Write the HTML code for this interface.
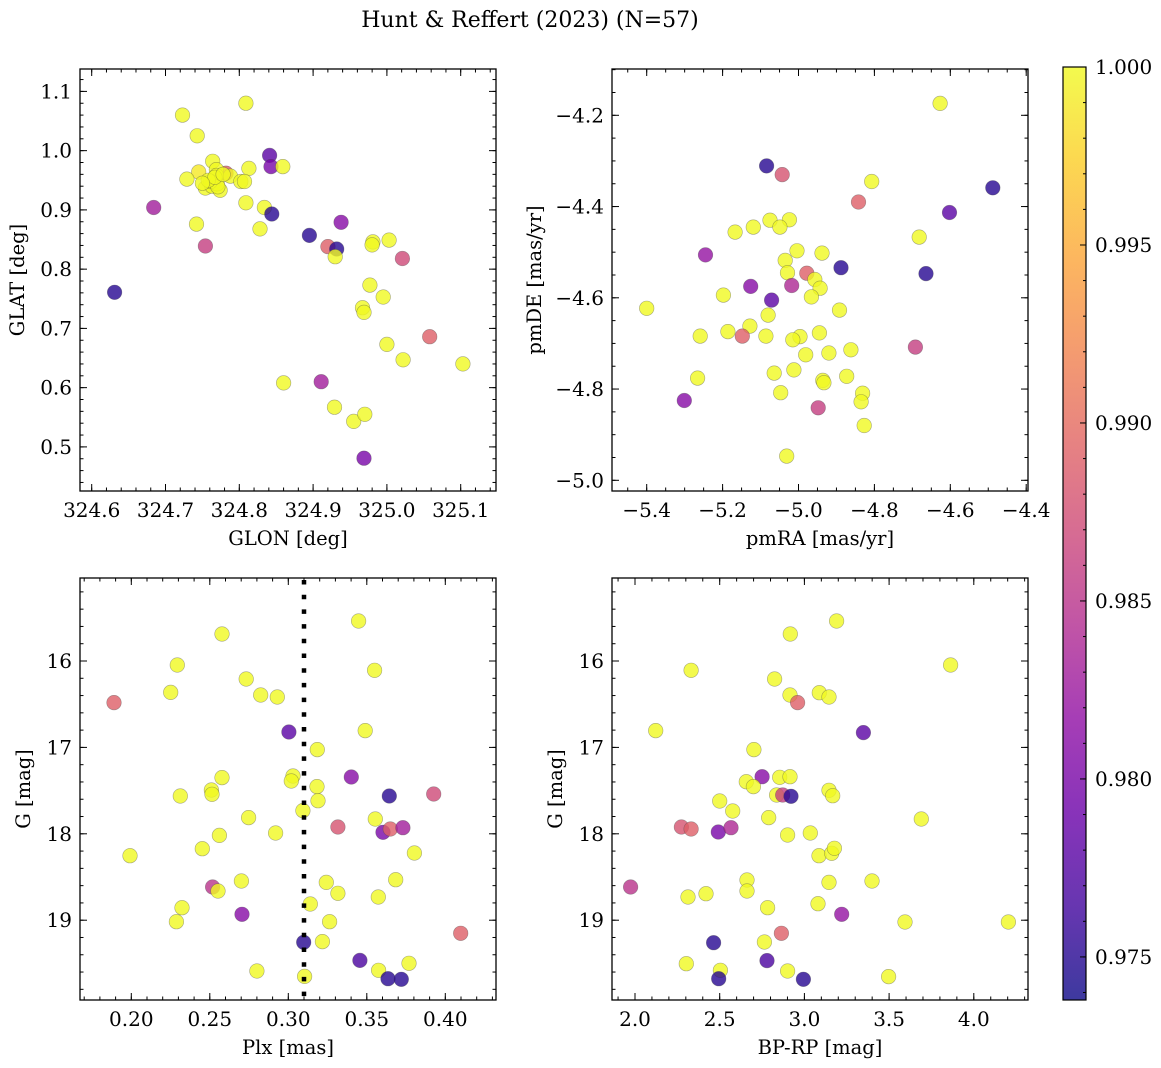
<!DOCTYPE html>
<html><head><meta charset="utf-8"><style>
body{margin:0;background:#fff}
svg{display:block;font-family:"DejaVu Serif","Liberation Serif",serif}
</style></head><body>
<svg id="fig" width="1161" height="1068" viewBox="0 0 1161 1068" xmlns="http://www.w3.org/2000/svg">
<defs>
<linearGradient id="plasmaGrad" x1="0" y1="1" x2="0" y2="0">
<stop offset="0" stop-color="#0d0887"/><stop offset="0.1" stop-color="#41049d"/><stop offset="0.2" stop-color="#6a00a8"/><stop offset="0.3" stop-color="#8f0da4"/><stop offset="0.4" stop-color="#b12a90"/><stop offset="0.5" stop-color="#cc4778"/><stop offset="0.6" stop-color="#e16462"/><stop offset="0.7" stop-color="#f2844b"/><stop offset="0.8" stop-color="#fca636"/><stop offset="0.9" stop-color="#fcce25"/><stop offset="1" stop-color="#f0f921"/>
</linearGradient>
</defs>
<text x="530" y="27" text-anchor="middle" font-size="22">Hunt &amp; Reffert (2023) (N=57)</text>
</svg>
<script>
// ---- Panel 1: GLON vs GLAT ----
const glon1=[324.809,324.723,324.743,324.841,324.843,324.859,324.764,324.745,324.782,324.729,324.769,324.788,324.813,324.802,324.807,324.754,324.763,324.774,324.770,324.769,324.761,324.684,324.809,324.834,324.844,324.742,324.828,324.754,324.895,324.938,324.920,324.932,324.930,324.981,324.980,325.003,325.021,324.631,324.977,324.995,324.967,324.969,325.058,325.000,325.022,325.103,324.860,324.911,324.929,324.955,324.970,324.969,324.771,324.758,324.767,324.778,324.750];
const glat1=[1.080,1.060,1.025,0.992,0.973,0.973,0.982,0.964,0.962,0.952,0.968,0.957,0.970,0.948,0.948,0.937,0.940,0.933,0.944,0.958,0.948,0.904,0.912,0.904,0.893,0.876,0.868,0.839,0.857,0.879,0.838,0.834,0.821,0.846,0.841,0.849,0.818,0.761,0.773,0.753,0.735,0.727,0.686,0.673,0.647,0.640,0.608,0.610,0.567,0.543,0.555,0.481,0.939,0.950,0.955,0.960,0.945];
const prob1=[1,1,1,0.978,0.980,1,1,0.999,0.989,1,1,1,1,1,1,1,1,1,1,1,1,0.983,1,1,0.975,1,1,0.986,0.975,0.981,0.989,0.975,1,1,1,1,0.987,0.975,1,1,1,1,0.989,1,1,1,1,0.983,1,1,1,0.980,1,1,1,1,1];
// ---- Panel 2: pmRA vs pmDE ----
const pmra2=[-4.627,-5.084,-5.043,-4.807,-4.488,-4.842,-4.602,-5.075,-5.024,-5.049,-5.119,-5.167,-4.682,-5.245,-5.004,-4.938,-5.035,-4.888,-4.664,-5.029,-4.978,-4.957,-4.943,-5.126,-5.018,-4.966,-5.198,-5.071,-5.400,-4.892,-5.080,-5.128,-5.186,-5.148,-5.259,-5.086,-4.996,-5.015,-4.945,-4.692,-4.862,-4.981,-4.920,-5.012,-5.064,-5.266,-4.873,-4.936,-4.933,-5.047,-4.831,-4.835,-5.301,-4.948,-4.827,-5.031];
const pmde2=[-4.174,-4.311,-4.330,-4.345,-4.359,-4.390,-4.413,-4.430,-4.429,-4.445,-4.445,-4.456,-4.467,-4.506,-4.497,-4.502,-4.518,-4.534,-4.547,-4.545,-4.546,-4.560,-4.579,-4.575,-4.573,-4.598,-4.594,-4.605,-4.623,-4.627,-4.638,-4.662,-4.674,-4.684,-4.684,-4.684,-4.685,-4.692,-4.677,-4.708,-4.714,-4.725,-4.721,-4.758,-4.765,-4.776,-4.772,-4.781,-4.786,-4.808,-4.809,-4.828,-4.825,-4.841,-4.880,-4.947];
const prob2=[1,0.975,0.988,1,0.975,0.989,0.978,1,1,1,1,1,1,0.982,1,1,1,0.975,0.975,1,0.989,1,1,0.981,0.984,1,1,0.978,1,1,1,1,1,0.989,1,1,1,1,1,0.986,1,1,1,1,1,1,1,1,1,1,1,1,0.981,0.986,1,1];
// ---- Panel 3: Plx vs G ----
const plx3=[0.3448,0.2578,0.2293,0.3550,0.2732,0.2251,0.2824,0.2930,0.1890,0.3004,0.3490,0.3185,0.3030,0.3019,0.3401,0.2578,0.3183,0.2510,0.2514,0.2312,0.3643,0.3926,0.3189,0.3093,0.2747,0.3554,0.2919,0.2561,0.3316,0.3603,0.3650,0.3730,0.2452,0.3803,0.1992,0.2701,0.3242,0.3684,0.2518,0.2552,0.3316,0.3573,0.3140,0.2323,0.2705,0.2287,0.3263,0.4098,0.3098,0.3217,0.3456,0.3769,0.3575,0.2800,0.3104,0.3635,0.3720];
const gmag3=[15.537,15.688,16.046,16.108,16.208,16.363,16.394,16.417,16.482,16.822,16.806,17.026,17.331,17.389,17.343,17.350,17.454,17.493,17.543,17.562,17.562,17.539,17.617,17.732,17.813,17.829,17.991,18.018,17.921,17.983,17.944,17.929,18.172,18.222,18.253,18.546,18.562,18.531,18.616,18.662,18.689,18.731,18.813,18.855,18.932,19.017,19.017,19.152,19.256,19.248,19.465,19.499,19.580,19.588,19.650,19.677,19.684];
const prob3=[1,1,1,1,1,1,1,1,0.989,0.978,1,1,1,1,0.981,1,1,1,1,1,0.975,0.987,1,1,1,1,1,1,0.988,0.980,0.989,0.983,1,1,1,1,1,1,0.985,1,1,1,1,1,0.981,1,1,0.989,0.975,1,0.977,1,1,1,1,0.975,0.975];
// ---- Panel 4: BP-RP vs G ----
const bprp4=[3.190,2.917,3.863,2.331,2.824,2.915,2.960,3.088,3.145,2.122,3.348,2.702,2.750,2.854,2.915,2.657,2.699,2.836,2.872,2.921,3.145,3.167,2.500,2.577,2.789,3.690,2.274,2.331,2.492,2.567,2.901,3.035,3.086,3.161,3.177,1.974,2.661,2.661,2.313,2.419,3.145,3.399,2.783,3.080,3.220,3.594,4.204,2.864,2.464,2.764,2.779,2.303,2.504,2.901,2.494,2.994,3.497];
const gmag4=[15.537,15.688,16.046,16.108,16.208,16.394,16.482,16.367,16.417,16.806,16.829,17.026,17.339,17.346,17.339,17.397,17.454,17.551,17.551,17.566,17.497,17.559,17.620,17.736,17.813,17.829,17.921,17.944,17.979,17.929,18.014,17.991,18.253,18.226,18.168,18.616,18.535,18.662,18.731,18.693,18.562,18.546,18.855,18.809,18.932,19.021,19.021,19.152,19.260,19.252,19.468,19.503,19.580,19.588,19.677,19.684,19.653];
const prob4=[1,1,1,1,1,1,0.989,1,1,1,0.978,1,0.981,1,1,1,1,1,0.986,0.975,1,1,1,1,1,1,0.988,0.989,0.980,0.984,1,1,1,1,1,0.985,1,1,1,1,1,1,1,1,0.982,1,1,0.989,0.975,1,0.977,1,1,1,0.975,0.975,1];
// ---- tick labels ----
const p1xTicks=[324.6,324.7,324.8,324.9,325.0,325.1];
const p1yTicks=[0.5,0.6,0.7,0.8,0.9,1.0,1.1];
const p2xTicks=[-5.4,-5.2,-5.0,-4.8,-4.6,-4.4];
const p2yTicks=[-5.0,-4.8,-4.6,-4.4,-4.2];
const p3xTicks=[0.20,0.25,0.30,0.35,0.40];
const gTicks=[16,17,18,19];
const p4xTicks=[2.0,2.5,3.0,3.5,4.0];
const cbTicks=[0.975,0.980,0.985,0.990,0.995,1.000];
const plxLine=0.31;

const svg=document.getElementById('fig');
const NS='http://www.w3.org/2000/svg';
const CMIN=0.97379,CMAX=1.0;
const stops=[[13,8,135],[65,4,157],[106,0,168],[143,13,164],[177,42,144],[204,71,120],[225,100,98],[242,132,75],[252,166,54],[252,206,37],[240,249,33]];
function plasma(v){let t=(v-CMIN)/(CMAX-CMIN);t=Math.max(0,Math.min(1,t));const f=t*10,i=Math.min(9,Math.floor(f)),r=f-i;const a=stops[i],b=stops[i+1];return 'rgb('+a.map((c,k)=>Math.round(c+(b[k]-c)*r)).join(',')+')';}
function el(tag,attrs,parent){const e=document.createElementNS(NS,tag);for(const k in attrs)e.setAttribute(k,attrs[k]);(parent||svg).appendChild(e);return e;}
function fmt(v,d){const s=Math.abs(v).toFixed(d);return (v<0?'\u2212':'')+s;}

function panel(name,box,xd,yd,xs,ys,cs,xt,yt,xdec,ydec,xminor,yminor,xlab,ylab,ylabX){
  const [L,T,R,B]=box;
  const sx=v=>L+(v-xd[0])/(xd[1]-xd[0])*(R-L);
  const sy=v=>T+(v-yd[0])/(yd[1]-yd[0])*(B-T);
  const g=el('g',{});
  
  
  const clipId=name+'-clip';
  const cp=el('clipPath',{id:clipId},g);el('rect',{x:L,y:T,width:R-L,height:B-T},cp);
  const pts=el('g',{'clip-path':'url(#'+clipId+')'},g);
  
  
  for(let i=0;i<xs.length;i++){
    const c=el('circle',{cx:sx(xs[i]).toFixed(1),cy:sy(ys[i]).toFixed(1),r:7.3,fill:plasma(cs[i]),'fill-opacity':0.8,stroke:'#444','stroke-opacity':0.45,'stroke-width':0.6},pts);
    
    
  }
  const tk=el('g',{stroke:'#000','stroke-width':1},g);
  const xlo=Math.min(xd[0],xd[1]),xhi=Math.max(xd[0],xd[1]);
  const ylo=Math.min(yd[0],yd[1]),yhi=Math.max(yd[0],yd[1]);
  for(let v=Math.ceil(xlo/xminor-1e-6)*xminor;v<=xhi+1e-9;v+=xminor){const x=sx(v);el('line',{x1:x,y1:B,x2:x,y2:B-3.5},tk);el('line',{x1:x,y1:T,x2:x,y2:T+3.5},tk);}
  for(let v=Math.ceil(ylo/yminor-1e-6)*yminor;v<=yhi+1e-9;v+=yminor){const y=sy(v);el('line',{x1:L,y1:y,x2:L+3.5,y2:y},tk);el('line',{x1:R,y1:y,x2:R-3.5,y2:y},tk);}
  const xg=el('g',{'font-size':20,'text-anchor':'middle'},g);
  
  
  xt.forEach(v=>{const x=sx(v);el('line',{x1:x,y1:B,x2:x,y2:B-7,stroke:'#000'},tk);el('line',{x1:x,y1:T,x2:x,y2:T+7,stroke:'#000'},tk);
    const t=el('text',{x:x,y:B+26},xg);t.textContent=fmt(v,xdec);});
  const yg=el('g',{'font-size':20,'text-anchor':'end'},g);
  
  
  yt.forEach(v=>{const y=sy(v);el('line',{x1:L,y1:y,x2:L+7,y2:y,stroke:'#000'},tk);el('line',{x1:R,y1:y,x2:R-7,y2:y,stroke:'#000'},tk);
    const t=el('text',{x:L-8,y:y+7},yg);t.textContent=fmt(v,ydec);});
  el('rect',{x:L,y:T,width:R-L,height:B-T,fill:'none',stroke:'#000','stroke-width':1.3},g);
  const xl=el('text',{x:(L+R)/2,y:B+54,'font-size':19.5,'text-anchor':'middle'},g);xl.textContent=xlab;
  
  
  const ym=(T+B)/2;
  const yl=el('text',{x:ylabX,y:ym,'font-size':19.5,'text-anchor':'middle',transform:'rotate(-90 '+ylabX+' '+ym+')'},g);yl.textContent=ylab;
  
  
  return {sx,sy,g};
}
const p1=panel('glon-glat-panel',[80,69,496,491],[324.6-11.7/738,324.6+404.3/738],[1.1+22.4/592.5,1.1-399.6/592.5],glon1,glat1,prob1,p1xTicks,p1yTicks,1,1,0.02,0.02,'GLON [deg]','GLAT [deg]',24);
const p2=panel('pmra-pmde-panel',[612,69,1028,491],[-5.4-34.7/379.5,-5.4+381.3/379.5],[-4.2+46.3/456.25,-4.2-375.7/456.25],pmra2,pmde2,prob2,p2xTicks,p2yTicks,1,1,0.05,0.05,'pmRA [mas/yr]','pmDE [mas/yr]',541);
const p3=panel('plx-g-panel',[80,578,496,1000],[0.2-51.3/1570,0.2+364.7/1570],[16-83/86.4,16+339/86.4],plx3,gmag3,prob3,p3xTicks,gTicks,2,0,0.01,0.2,'Plx [mas]','G [mag]',30);
const p4=panel('bprp-g-panel',[612,578,1028,1000],[2.0-23/169.4,2.0+393/169.4],[16-83/86.4,16+339/86.4],bprp4,gmag4,prob4,p4xTicks,gTicks,1,0,0.1,0.2,'BP-RP [mag]','G [mag]',562);
const dl=el('line',{x1:p3.sx(plxLine),y1:580,x2:p3.sx(plxLine),y2:1000,stroke:'#000','stroke-width':4.5,'stroke-dasharray':'4.5 10.2'});


const cb=el('g',{});


const CT=67,CB=1000,CL=1063,CR=1086;
const cy=v=>CB-(v-CMIN)/(CMAX-CMIN)*(CB-CT);
el('rect',{x:CL,y:CT,width:CR-CL,height:CB-CT,fill:'url(#plasmaGrad)','fill-opacity':0.8},cb);
el('rect',{x:CL,y:CT,width:CR-CL,height:CB-CT,fill:'none',stroke:'#000','stroke-width':1.2},cb);
for(let v=0.974;v<=1.00001;v+=0.001){const y=cy(v);el('line',{x1:CR,y1:y,x2:CR-3,y2:y,stroke:'#000'},cb);}
cbTicks.forEach(v=>{const y=cy(v);el('line',{x1:CR,y1:y,x2:CR-6,y2:y,stroke:'#000'},cb);
  const t=el('text',{x:1095,y:y+7,'font-size':20},cb);t.textContent=v.toFixed(3);
  
  });
</script>
</body></html>
